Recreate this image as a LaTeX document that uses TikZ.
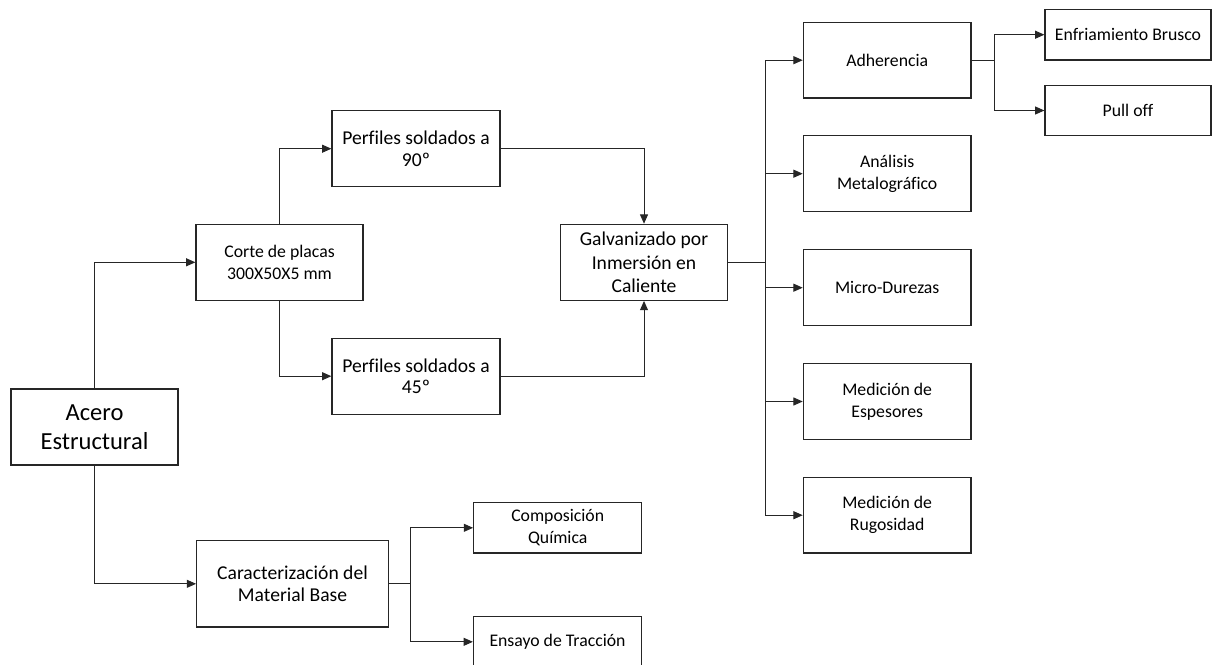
\documentclass[tikz,border=0pt]{standalone}
\usepackage{fontspec}
\setmainfont{Carlito}[Ligatures={NoCommon}]
\usetikzlibrary{arrows.meta}
\tikzset{
  box/.style={draw=black!85, line width=0.9pt, align=center, inner sep=1pt, text=black},
  big/.style={box, font=\fontsize{18.4}{21.8}\selectfont},
  mid/.style={box, font=\fontsize{14.7}{16.3}\selectfont},
  sml/.style={box, font=\fontsize{13.3}{16.3}\selectfont},
  conn/.style={draw=black!85, line width=0.75pt, -{Triangle[length=7pt,width=6pt]}},
  plain/.style={draw=black!85, line width=0.75pt},
}
\begin{document}
\begin{tikzpicture}[x=0.75pt,y=-0.75pt]
\useasboundingbox (0,0) rectangle (1212,664);
% left part
\node[big, minimum width=125.25pt, minimum height=57pt] (acero) at (94.5,427) {Acero\\Estructural};
\node[sml, minimum width=125.25pt, minimum height=57pt] (corte) at (279.5,262.3) {Corte de placas\\300X50X5 mm};
\node[mid, minimum width=126pt, minimum height=57pt] (p90) at (416,148.7) {Perfiles soldados a\\90º};
\node[mid, minimum width=126pt, minimum height=57pt] (p45) at (416,376.2) {Perfiles soldados a\\45º};
\node[mid, minimum width=125.5pt, minimum height=57pt, font=\fontsize{14.7}{17.5}\selectfont] (galv) at (644,262.3) {Galvanizado por\\Inmersión en\\Caliente};
\node[mid, minimum width=143.7pt, minimum height=64.7pt] (carac) at (292.5,583.8) {Caracterización del\\Material Base};
\node[sml, minimum width=126pt, minimum height=37.7pt] (comp) at (557.7,527.8) {Composición\\Química};
\node[sml, minimum width=126pt, minimum height=37.7pt] (ens) at (557.5,641.8) {Ensayo de Tracción};
% right part
\node[sml, minimum width=125.8pt, minimum height=56.8pt] (adh) at (887.2,60.2) {Adherencia};
\node[sml, minimum width=125.8pt, minimum height=56.8pt] (anal) at (887.2,173.7) {Análisis\\Metalográfico};
\node[sml, minimum width=125.8pt, minimum height=56.8pt] (micro) at (887.2,287.7) {Micro-Durezas};
\node[sml, minimum width=125.8pt, minimum height=56.8pt] (esp) at (887.2,401.5) {Medición de\\Espesores};
\node[sml, minimum width=125.8pt, minimum height=56.8pt] (rug) at (887.2,515.2) {Medición de\\Rugosidad};
\node[sml, minimum width=124.5pt, minimum height=38pt] (enf) at (1128,34.7) {Enfriamiento Brusco};
\node[sml, minimum width=124.5pt, minimum height=38pt] (pull) at (1128,110.5) {Pull off};
% connectors
\draw[conn] (acero.north) |- (corte.west);
\draw[conn] (acero.south) |- (carac.west);
\draw[conn] (corte.north) |- (p90.west);
\draw[conn] (corte.south) |- (p45.west);
\draw[conn] (p90.east) -| (galv.north);
\draw[conn] (p45.east) -| (galv.south);
\coordinate (bus) at (765.3,262.3);
\coordinate (cbus) at (410.3,583.8);
\coordinate (abus) at (994,60.2);
\draw[plain] (galv.east) -- (bus);
\draw[conn] (bus) |- (adh.west);
\draw[conn] (bus) |- (anal.west);
\draw[conn] (bus) |- (micro.west);
\draw[conn] (bus) |- (esp.west);
\draw[conn] (bus) |- (rug.west);
\draw[plain] (carac.east) -- (cbus);
\draw[conn] (cbus) |- (comp.west);
\draw[conn] (cbus) |- (ens.west);
\draw[plain] (adh.east) -- (abus);
\draw[conn] (abus) |- (enf.west);
\draw[conn] (abus) |- (pull.west);
\end{tikzpicture}
\end{document}
